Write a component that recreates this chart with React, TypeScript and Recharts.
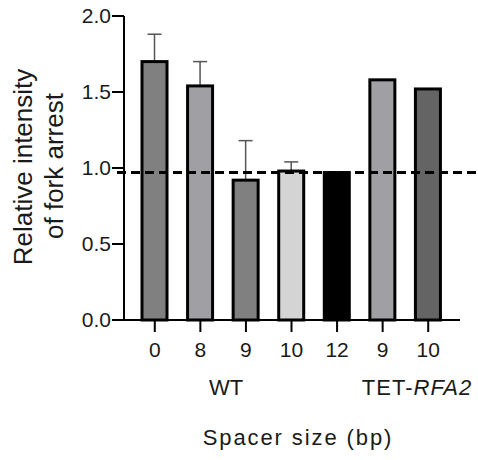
import { BarChart, Bar, XAxis, YAxis, Cell, ReferenceLine, Customized } from 'recharts';

const spacers = ['0', '8', '9', '10', '12', '9', '10'];
const intensity = [1.7, 1.54, 0.92, 0.98, 0.97, 1.58, 1.52];
const errorUp = [0.18, 0.16, 0.26, 0.06, 0, 0, 0];
const barColors = ['#808080', '#a0a0a4', '#808080', '#d4d4d4', '#000000', '#a0a0a4', '#646464'];
const yTicks = [0, 0.5, 1, 1.5, 2];
const baseline = 0.97;

const data = spacers.map((s, i) => ({
  key: `${s}-${i}`,
  spacer: s,
  value: intensity[i],
  err: errorUp[i],
}));

const font = '"Liberation Sans", Arial, sans-serif';

// bar with an upward-only error whisker
const BarWithError = (props: any) => {
  const { x, y, width, height, fill, payload } = props;
  const perUnit = payload.value ? height / payload.value : 0;
  const errTop = y - payload.err * perUnit;
  const cx = x + width / 2;
  return (
    <g>
      {payload.err > 0 && (
        <g stroke="#555" strokeWidth={1.5}>
          <line x1={cx} x2={cx} y1={y} y2={errTop} />
          <line x1={cx - 7} x2={cx + 7} y1={errTop} y2={errTop} />
        </g>
      )}
      <rect x={x} y={y} width={width} height={height} fill={fill} stroke="#000" strokeWidth={3} />
    </g>
  );
};

const Labels = () => (
  <g fontFamily={font} fill="#1a1a1a">
    <text transform="translate(32,167) rotate(-90)" fontSize={26} textAnchor="middle">
      Relative intensity
    </text>
    <text transform="translate(63,166) rotate(-90)" fontSize={26} textAnchor="middle">
      of fork arrest
    </text>
    <text x={226} y={395} fontSize={22} textAnchor="middle">WT</text>
    <text x={417} y={395} fontSize={22} textAnchor="middle" letterSpacing={1}>
      TET-<tspan fontStyle="italic">RFA2</tspan>
    </text>
    <text x={298} y={445} fontSize={22} textAnchor="middle" letterSpacing={1.9}>Spacer size (bp)</text>
  </g>
);

export default function App() {
  return (
    <div style={{ position: 'absolute', left: 0, top: 0, background: '#fff' }}>
      <BarChart width={478} height={460} data={data} margin={{ top: 16, right: 18, bottom: 110, left: 0 }}>
        <XAxis
          dataKey="key"
          height={30}
          tickFormatter={(_v: any, i: number) => spacers[i]}
          padding={{ left: 8, right: 9 }}
          axisLine={{ stroke: '#000', strokeWidth: 2 }}
          tickLine={{ stroke: '#000', strokeWidth: 2 }}
          tickSize={12}
          tickMargin={10}
          tick={{ fill: '#1a1a1a', fontSize: 21, fontFamily: font }}
        />
        <YAxis
          width={124}
          domain={[0, 2]}
          ticks={yTicks}
          tickFormatter={(v: number) => v.toFixed(1)}
          axisLine={{ stroke: '#000', strokeWidth: 2 }}
          tickLine={{ stroke: '#000', strokeWidth: 2 }}
          tickSize={12}
          tickMargin={1}
          tick={{ fill: '#1a1a1a', fontSize: 21, fontFamily: font }}
        />
        <Bar dataKey="value" barSize={25} shape={BarWithError} isAnimationActive={false}>
          {data.map((d, i) => (
            <Cell key={d.key} fill={barColors[i]} />
          ))}
        </Bar>
        <ReferenceLine
          y={baseline}
          shape={(p: any) => (
            <line x1={p.x1 - 7} x2={p.x2 + 18} y1={p.y1} y2={p.y2} stroke="#000" strokeWidth={3} strokeDasharray="9 5" />
          )}
        />
        <Customized component={Labels} />
      </BarChart>
    </div>
  );
}
